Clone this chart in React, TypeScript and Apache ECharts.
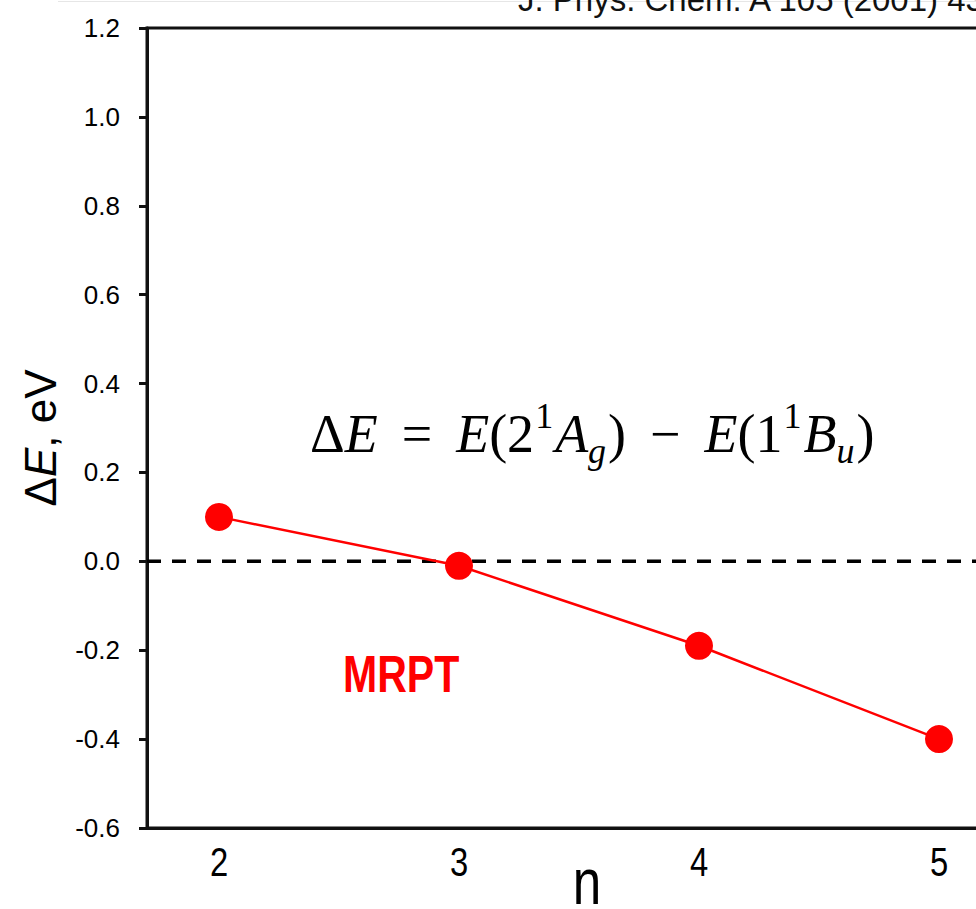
import React, { useEffect, useRef } from "react";
import * as echarts from "echarts";

// ---- data ----
const nValues = [2, 3, 4, 5];
const mrptDeltaE = [0.1, -0.01, -0.19, -0.4];
const xTickLabels = ["2", "3", "4", "5"];
const xMin = 1.7;
const xMax = 5.3;
const yMin = -0.6;
const yMax = 1.2;
const yStep = 0.2;
const referenceLevel = 0.0;
const seriesName = "MRPT";
const sourceNote = "J. Phys. Chem. A 105 (2001) 43";
const xTitle = "n";

const SANS = "'Liberation Sans', Arial, Helvetica, sans-serif";
const SERIF = "'Liberation Serif', 'Times New Roman', serif";

export default function App() {
  const ref = useRef<HTMLDivElement>(null);

  useEffect(() => {
    document.body.style.margin = "0";
    if (!ref.current) return;
    const chart = echarts.init(ref.current, null, { renderer: "svg" });

    const baseGraphics: any[] = [
      {
        type: "line",
        shape: { x1: 58, y1: 1.5, x2: 1011, y2: 1.5 },
        style: { stroke: "#e6e6e6", lineWidth: 1 },
        silent: true,
      },
      {
        type: "text",
        x: 518,
        y: -1,
        style: {
          text: sourceNote,
          fontFamily: SANS,
          fontSize: 33,
          fill: "#111111",
          align: "left",
          verticalAlign: "middle",
        },
      },
      {
        type: "text",
        x: 40,
        y: 438,
        rotation: Math.PI / 2,
        style: {
          text: "{r|Δ}{i|E}{r|, eV}",
          align: "center",
          verticalAlign: "middle",
          rich: {
            r: { fontFamily: SANS, fontSize: 44, fill: "#000000" },
            i: { fontFamily: SANS, fontSize: 44, fontStyle: "italic", fill: "#000000" },
          },
        },
      },
      {
        type: "text",
        x: 310,
        y: 434,
        style: {
          text: "{r|Δ}{i|E}{op|=}{i|E}{r|(2}{sup|1}{i|A}{sub|g}{r|)}{op|−}{i|E}{r|(1}{sup|1}{i|B}{sub|u}{r|)}",
          align: "left",
          verticalAlign: "middle",
          rich: {
            r: { fontFamily: SERIF, fontSize: 54, lineHeight: 80, fill: "#000000" },
            i: { fontFamily: SERIF, fontSize: 54, lineHeight: 80, fontStyle: "italic", fill: "#000000" },
            op: { fontFamily: SERIF, fontSize: 54, lineHeight: 80, fill: "#000000", padding: [0, 24] },
            sup: {
              fontFamily: SERIF,
              fontSize: 36,
              fill: "#000000",
              verticalAlign: "top",
              padding: [4, 2, 0, 1],
            },
            sub: {
              fontFamily: SERIF,
              fontSize: 36,
              fontStyle: "italic",
              fill: "#000000",
              verticalAlign: "bottom",
              padding: [0, 2, 5, 0],
            },
          },
        },
      },
      {
        type: "text",
        x: 343,
        y: 674,
        scaleX: 0.79,
        style: {
          text: seriesName,
          fontFamily: SANS,
          fontWeight: "bold",
          fontSize: 52,
          fill: "#ff0000",
          align: "left",
          verticalAlign: "middle",
        },
      },
      {
        type: "text",
        x: 587,
        y: 882,
        scaleX: 0.8,
        style: {
          text: xTitle,
          fontFamily: SANS,
          fontSize: 64,
          fill: "#000000",
          align: "center",
          verticalAlign: "middle",
        },
      },
    ];

    const option: any = {
      animation: false,
      backgroundColor: "#ffffff",
      grid: {
        left: 147,
        top: 28,
        right: 0,
        bottom: 81,
        show: true,
        borderColor: "#111111",
        borderWidth: 3,
        backgroundColor: "transparent",
      },
      xAxis: {
        type: "value",
        min: xMin,
        max: xMax,
        axisLine: { show: true, onZero: false, lineStyle: { color: "#111111", width: 3 } },
        axisTick: { show: false },
        splitLine: { show: false },
        axisLabel: { show: false },
      },
      yAxis: {
        type: "value",
        min: yMin,
        max: yMax,
        interval: yStep,
        axisLine: { show: true, onZero: false, lineStyle: { color: "#111111", width: 3 } },
        axisTick: { show: true, length: 8, inside: false, lineStyle: { color: "#111111", width: 3 } },
        splitLine: { show: false },
        axisLabel: {
          formatter: (v: number) => (Math.abs(v) < 1e-9 ? "0.0" : v.toFixed(1)),
          fontFamily: SANS,
          fontSize: 26,
          color: "#000000",
          margin: 27,
        },
      },
      series: [
        {
          type: "line",
          name: "zero",
          z: 1,
          silent: true,
          symbol: "none",
          data: [
            [xMin, referenceLevel],
            [xMax, referenceLevel],
          ],
          lineStyle: { color: "#000000", type: [14, 11], width: 3.5 },
        },
        {
          type: "line",
          name: seriesName,
          z: 5,
          data: nValues.map((n, i) => [n, mrptDeltaE[i]]),
          symbol: "circle",
          symbolSize: 28,
          lineStyle: { color: "#ff0000", width: 2.5 },
          itemStyle: { color: "#ff0000" },
        },
      ],
      graphic: baseGraphics,
    };

    chart.setOption(option);

    // x tick labels placed through the axis scale
    const labelGraphics = nValues.map((n, i) => {
      const p = chart.convertToPixel({ xAxisIndex: 0, yAxisIndex: 0 }, [n, yMin]) as number[];
      return {
        type: "text",
        x: p[0],
        y: p[1] + 34,
        scaleX: 0.82,
        style: {
          text: xTickLabels[i],
          fontFamily: SANS,
          fontSize: 40,
          fill: "#000000",
          align: "center",
          verticalAlign: "middle",
        },
      };
    });
    chart.setOption({ graphic: [...baseGraphics, ...labelGraphics] });

    return () => chart.dispose();
  }, []);

  return (
    <div style={{ position: "absolute", left: 0, top: 0, width: 976, height: 909, overflow: "hidden" }}>
      <div ref={ref} style={{ width: 1011, height: 909 }} />
    </div>
  );
}
